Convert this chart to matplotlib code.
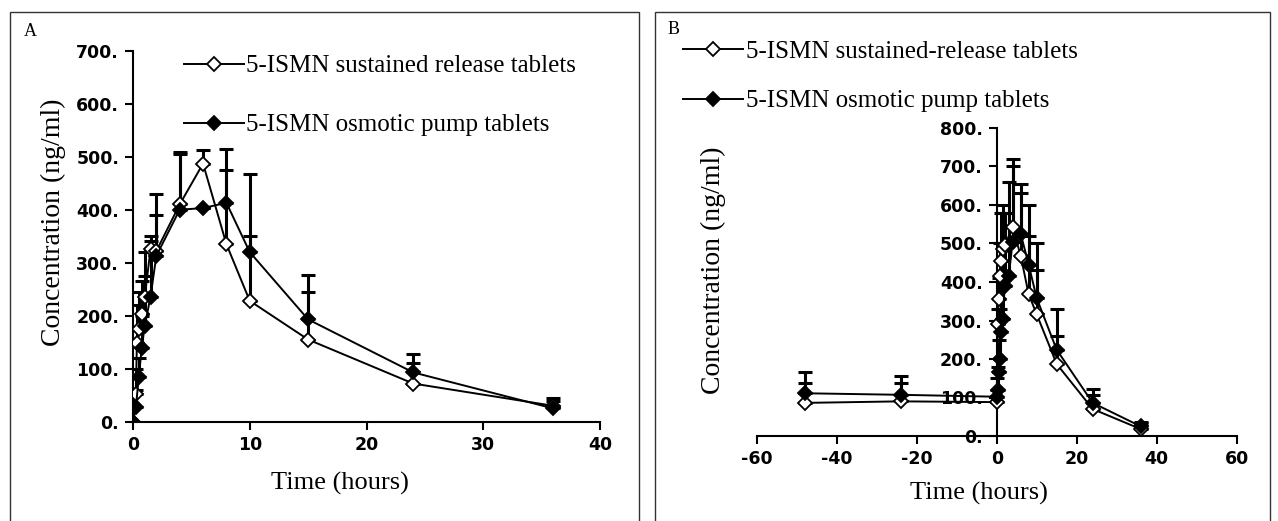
import numpy as np
import matplotlib
matplotlib.use("Agg")
import matplotlib.pyplot as plt
from matplotlib.patches import Rectangle
from matplotlib.ticker import FuncFormatter

# Panel A (single-dose)
t_a_sr = [0, 0.25, 0.33, 0.5, 0.75, 1, 1.5, 2, 4, 6, 8, 10, 15, 24, 36]
sr_a = [0, 52, 148, 175, 203, 235, 325, 322, 410, 487, 335, 228, 155, 72, 30]
sr_a_top = [0, 100, 220, 245, 265, 320, 340, 390, 505, 512, 475, 350, 245, 110, 40]
t_a_os = [0, 0.25, 0.5, 0.75, 1, 1.5, 2, 4, 6, 8, 10, 15, 24, 36]
os_a = [0, 28, 85, 140, 180, 236, 313, 400, 403, 413, 320, 193, 93, 25]
os_a_top = [0, 60, 120, 200, 275, 350, 430, 508, 403, 515, 467, 277, 127, 45]

# Panel B (multiple-dose)
t_b_sr = [-48, -24, 0, 0.25, 0.5, 0.75, 1, 1.5, 2, 4, 6, 8, 10, 15, 24, 36]
sr_b = [86, 90, 88, 290, 355, 415, 455, 485, 495, 542, 468, 368, 316, 187, 70, 18]
sr_b_top = [138, 138, 120, 330, 410, 500, 580, 600, 580, 700, 630, 520, 430, 261, 107, 35]
t_b_os = [-48, -24, 0, 0.25, 0.5, 0.75, 1, 1.5, 2, 3, 4, 6, 8, 10, 15, 24, 36]
os_b = [111, 107, 102, 120, 165, 200, 270, 305, 390, 415, 505, 525, 445, 358, 224, 86, 25]
os_b_top = [166, 155, 150, 180, 250, 330, 420, 500, 580, 660, 720, 655, 600, 500, 329, 122, 37]

labels_a = ["5-ISMN sustained release tablets", "5-ISMN osmotic pump tablets"]
labels_b = ["5-ISMN sustained-release tablets", "5-ISMN osmotic pump tablets"]

plt.rcParams["font.family"] = ["DejaVu Sans"]
plt.rcParams["font.weight"] = "bold"

W, H = 1278, 521
fig = plt.figure(figsize=(W / 100, H / 100), dpi=100)

def fx(px):
    return px / W

def fy(py):
    return 1 - py / H

serif = ["Liberation Serif", "DejaVu Serif"]
legend_font = {"family": serif, "size": 18, "weight": "normal"}

# panel frames
for x0, x1 in [(10, 639), (655, 1270)]:
    fig.patches.append(Rectangle((fx(x0), -0.05), fx(x1 - x0), fy(12) + 0.05,
                                 transform=fig.transFigure, fill=False,
                                 edgecolor="#333333", lw=1.0))

def draw(ax, t, y, top, filled, label):
    y = np.array(y, float)
    err = np.clip(np.array(top, float) - y, 0, None)
    ax.errorbar(t, y, yerr=[np.zeros_like(err), err], fmt="none", ecolor="black",
                elinewidth=2.2, capsize=5, capthick=2.2, zorder=2)
    ax.plot(t, y, color="black", lw=1.4, marker="D", markersize=7,
            markerfacecolor="black" if filled else "white",
            markeredgecolor="black", markeredgewidth=1.3, label=label, zorder=3)

def style(ax):
    for s in ["top", "right"]:
        ax.spines[s].set_visible(False)
    for s in ["left", "bottom"]:
        ax.spines[s].set_linewidth(1.5)
    ax.tick_params(direction="out", length=6, width=1.5, pad=4, labelsize=12.5)
    ax.yaxis.set_major_formatter(FuncFormatter(lambda v, p: f"{int(round(v))}."))
    ax.xaxis.set_major_formatter(FuncFormatter(lambda v, p: f"{int(v)}"))

# ---- Panel A
axA = fig.add_axes([fx(133), fy(421.7), fx(600 - 133), fy(50.7) - fy(421.7)])
draw(axA, t_a_sr, sr_a, sr_a_top, False, labels_a[0])
draw(axA, t_a_os, os_a, os_a_top, True, labels_a[1])
axA.set_xlim(0, 40)
axA.set_ylim(0, 700)
axA.set_xticks([0, 10, 20, 30, 40])
axA.set_yticks(range(0, 701, 100))
style(axA)
axA.set_ylabel("Concentration (ng/ml)", family=serif, fontsize=20, fontweight="normal")
axA.yaxis.set_label_coords(fx(66), fy(222), transform=fig.transFigure)
axA.set_xlabel("Time (hours)", family=serif, fontsize=19, fontweight="normal")
axA.xaxis.set_label_coords(fx(340), fy(472), transform=fig.transFigure)
axA.legend(loc="upper left", bbox_to_anchor=(fx(184), fy(55)), bbox_transform=fig.transFigure,
           frameon=False, prop=legend_font, handlelength=2.4,
           handletextpad=0.1, labelspacing=1.45, borderaxespad=0, borderpad=0)
fig.text(fx(24), fy(32), "A", family=serif, fontsize=13, fontweight="normal",
         va="center", ha="left")

# ---- Panel B
axB = fig.add_axes([fx(756.7), fy(436), fx(1236.7 - 756.7), fy(128) - fy(436)])
draw(axB, t_b_sr, sr_b, sr_b_top, False, labels_b[0])
draw(axB, t_b_os, os_b, os_b_top, True, labels_b[1])
axB.set_xlim(-60, 60)
axB.set_ylim(0, 800)
axB.set_xticks(range(-60, 61, 20))
axB.set_yticks(range(0, 801, 100))
axB.spines["left"].set_position(("data", 0))
style(axB)
axB.set_ylabel("Concentration (ng/ml)", family=serif, fontsize=20, fontweight="normal")
axB.yaxis.set_label_coords(fx(726), fy(270), transform=fig.transFigure)
axB.set_xlabel("Time (hours)", family=serif, fontsize=19, fontweight="normal")
axB.xaxis.set_label_coords(fx(979), fy(482), transform=fig.transFigure)
axB.legend(loc="upper left", bbox_to_anchor=(fx(683), fy(40)), bbox_transform=fig.transFigure,
           frameon=False, prop=legend_font, handlelength=2.4,
           handletextpad=0.1, labelspacing=1.1, borderaxespad=0, borderpad=0)
fig.text(fx(668), fy(30), "B", family=serif, fontsize=13, fontweight="normal",
         va="center", ha="left")

fig.savefig("out.png", dpi=100)
